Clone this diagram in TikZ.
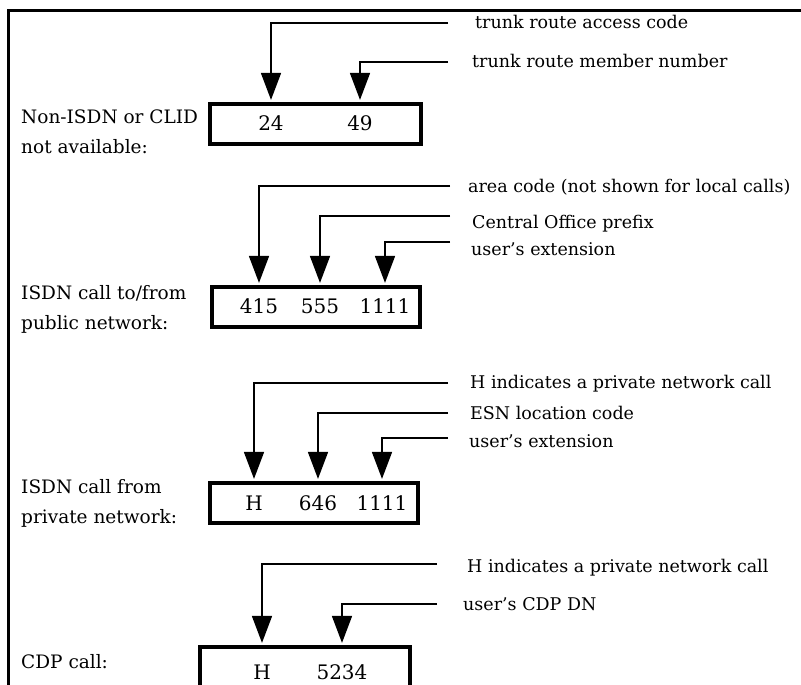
\documentclass[tikz,border=0pt]{standalone}
\usepackage{fontspec}
\setmainfont{DejaVu Serif}
\usetikzlibrary{arrows.meta}
\tikzstyle{caja}=[draw,line width=3.2pt,inner sep=0pt,minimum height=40pt]
\tikzstyle{campo}=[inner sep=0pt,anchor=base,font=\fontsize{20}{20}\selectfont]
\tikzstyle{texto}=[inner sep=0pt,anchor=base west,font=\fontsize{17.5}{17.5}\selectfont]
\tikzstyle{tipo}=[inner sep=0pt,anchor=north west,align=left,font=\fontsize{18.5}{30}\selectfont]
\tikzstyle{flecha}=[line width=1.6pt,-{Triangle[width=20pt,length=27pt]},shorten >=2.5pt]

\begin{document}
\begin{tikzpicture}[x=1pt,y=-1pt]
    \useasboundingbox (0,0) rectangle (801,685);
    \clip (0,0) rectangle (801,685);
    \draw [line width=3pt] (8,700) -- (8,11) -- (810,11);

    % Non-ISDN
    \node [tipo] (t1) at (21,110) {Non-ISDN or CLID\\not available:};
    \node [caja,minimum width=211pt] (box1) at (315.5,124) {};
    \node [campo] (f24) at (271,130) {24};
    \node [campo] (f49) at (360,130) {49};
    \node [texto] (acc) at (475,29) {trunk route access code};
    \node [texto] (mem) at (472,67) {trunk route member number};
    \coordinate (c11) at (448,23);
    \coordinate (c12) at (448,62);
    \draw [flecha] (c11) -| (f24 |- box1.north);
    \draw [flecha] (c12) -| (f49 |- box1.north);

    % ISDN publica
    \node [tipo] (t2) at (21,285) {ISDN call to/from\\public network:};
    \node [caja,minimum width=208pt] (box2) at (316,307) {};
    \node [campo] (f415) at (259,313) {415};
    \node [campo] (f555) at (320,313) {555};
    \node [campo] (f1111) at (385,313) {1111};
    \node [texto] (area) at (468,192) {area code (not shown for local calls)};
    \node [texto] (pref) at (472,228) {Central Office prefix};
    \node [texto] (ext) at (471,255) {user's extension};
    \coordinate (c21) at (450,186);
    \coordinate (c22) at (450,216);
    \coordinate (c23) at (450,242);
    \draw [flecha] (c21) -| (f415 |- box2.north);
    \draw [flecha] (c22) -| (f555 |- box2.north);
    \draw [flecha] (c23) -| (f1111 |- box2.north);

    % ISDN privada
    \node [tipo] (t3) at (21,479) {ISDN call from\\private network:};
    \node [caja,minimum width=208pt] (box3) at (314,503) {};
    \node [campo] (fh) at (254,510) {H};
    \node [campo] (f646) at (318,510) {646};
    \node [campo] (fext) at (382,510) {1111};
    \node [texto] (priv) at (470,388) {H indicates a private network call};
    \node [texto] (esn) at (470,419) {ESN location code};
    \node [texto] (ext2) at (469,447) {user's extension};
    \coordinate (c31) at (448,383);
    \coordinate (c32) at (448,413);
    \coordinate (c33) at (448,438);
    \draw [flecha] (c31) -| (fh |- box3.north);
    \draw [flecha] (c32) -| (f646 |- box3.north);
    \draw [flecha] (c33) -| (fext |- box3.north);

    % CDP
    \node [tipo] (t4) at (21,654) {CDP call:};
    \node [caja,minimum width=210pt] (box4) at (305,667) {};
    \node [campo] (fh2) at (262,679) {H};
    \node [campo] (f5234) at (342,679) {5234};
    \node [texto] (priv2) at (467,572) {H indicates a private network call};
    \node [texto] (dn) at (463,610) {user's CDP DN};
    \coordinate (c41) at (437,564);
    \coordinate (c42) at (437,604);
    \draw [flecha] (c41) -| (fh2 |- box4.north);
    \draw [flecha] (c42) -| (f5234 |- box4.north);
\end{tikzpicture}
\end{document}
